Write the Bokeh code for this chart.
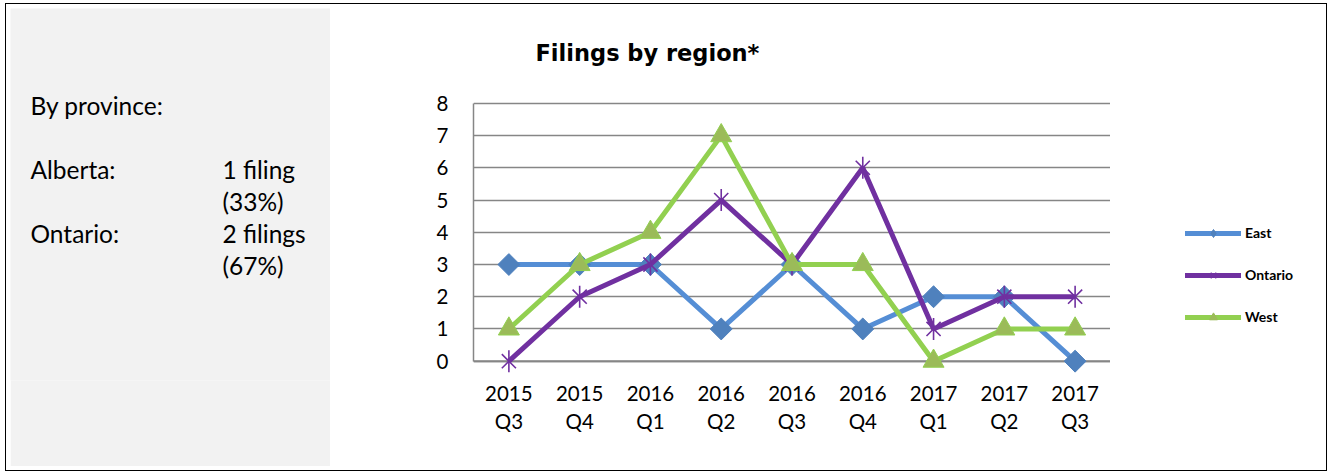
import math
from bokeh.plotting import figure
from bokeh.models import (ColumnDataSource, FactorRange, Range1d, FixedTicker,
                          Legend, LegendItem, Span)
from bokeh.layouts import row
from bokeh.core.properties import value
from bokeh.embed import file_html
from bokeh.resources import INLINE

# ---------------- data ----------------
quarters = ["2015\nQ3", "2015\nQ4", "2016\nQ1", "2016\nQ2", "2016\nQ3",
            "2016\nQ4", "2017\nQ1", "2017\nQ2", "2017\nQ3"]
east = [3, 3, 3, 1, 3, 1, 2, 2, 0]
ontario = [0, 2, 3, 5, 3, 6, 1, 2, 2]
west = [1, 3, 4, 7, 3, 3, 0, 1, 1]
series_names = ["East", "Ontario", "West"]
y_ticks = [0, 1, 2, 3, 4, 5, 6, 7, 8]
title_text = "Filings by region*"

side_heading = "By province:"
side_rows = [("Alberta:", "1 filing", "(33%)"),
             ("Ontario:", "2 filings", "(67%)")]

FONT = "Lato"
GRAY_BG = "#F2F2F2"
AXIS_GRAY = "#868686"
C_EAST, C_EAST_M = "#558ED5", "#4F81BD"
C_ONT = "#7030A0"
C_WEST, C_WEST_M = "#92D050", "#9BBB59"

# page geometry (pixels)
ROW_LEFT, ROW_TOP = 10, 8
ROW_W, ROW_H = 1312, 458
LEFT_W = 320
FRAME_L, FRAME_R = 473, 1110          # plot area left/right on page
Y8_PX, Y0_PX = 103, 361               # page y of value 8 and value 0
PPU = (Y0_PX - Y8_PX) / 8.0           # pixels per unit
Y_BOTTOM = -0.6                       # room below 0 so markers at 0 are whole
FRAME_B = Y0_PX - Y_BOTTOM * PPU
BOTTOM_BORDER = round(ROW_TOP + ROW_H - FRAME_B)
LEG_W = ROW_LEFT + ROW_W - FRAME_R


def px_to_cat(px):
    return (px - FRAME_L) / (FRAME_R - FRAME_L) * len(quarters)


# ---------------- left panel ----------------
left = figure(width=LEFT_W, height=ROW_H,
              x_range=Range1d(ROW_LEFT, ROW_LEFT + LEFT_W), y_range=Range1d(FRAME_B, ROW_TOP),
              output_backend="svg", toolbar_location=None,
              min_border_left=0, min_border_right=0, min_border_top=0,
              min_border_bottom=BOTTOM_BORDER)
left.axis.visible = False
left.grid.visible = False
left.outline_line_color = None
left.background_fill_color = GRAY_BG
left.border_fill_color = GRAY_BG

tx, ty, tt = [30], [105], [side_heading]
yy = 169
for name, cnt, pct in side_rows:
    tx += [30, 222, 222]
    ty += [yy, yy, yy + 32]
    tt += [name, cnt, pct]
    yy += 64
left.text(x=tx, y=ty, text=tt, text_font=value(FONT), text_font_size="24.5px",
          text_baseline="middle", text_align="left", text_color="#000000")

# ---------------- chart ----------------
src = ColumnDataSource(dict(x=quarters, east=east, ontario=ontario, west=west))

y_top = (Y0_PX - ROW_TOP) / PPU
p = figure(width=FRAME_R - (ROW_LEFT + LEFT_W), height=ROW_H,
           x_range=FactorRange(*quarters, range_padding=0),
           y_range=Range1d(Y_BOTTOM, y_top), output_backend="svg", toolbar_location=None,
           min_border_left=FRAME_L - (ROW_LEFT + LEFT_W),
           min_border_right=0, min_border_top=0, min_border_bottom=BOTTOM_BORDER)
p.outline_line_color = None
p.background_fill_color = "white"
p.border_fill_color = "white"
p.extra_y_ranges = {"px": Range1d(FRAME_B, ROW_TOP)}

# title
p.text(x=[px_to_cat(535)], y=[53], text=[title_text], y_range_name="px",
       text_font=value("DejaVu Sans"), text_font_size="22.5px", text_font_style="bold",
       text_baseline="middle", text_align="left", text_color="#000000")

p.yaxis.ticker = FixedTicker(ticks=y_ticks)
p.yaxis.bounds = (0, 8)
for ax in (p.xaxis[0], p.yaxis[0]):
    ax.major_tick_line_color = None
    ax.minor_tick_line_color = None
    ax.major_tick_out = 0
    ax.major_tick_in = 0
    ax.major_label_text_font = FONT
    ax.major_label_text_font_size = "20.5px"
    ax.major_label_text_color = "#000000"
p.yaxis.axis_line_color = AXIS_GRAY
p.yaxis.axis_line_width = 1.5
p.xaxis.axis_line_color = None
p.yaxis.major_label_standoff = 25
p.xaxis.major_label_standoff = 0
p.xaxis.major_label_text_line_height = 1.18
p.xaxis.major_label_orientation = "horizontal"

p.xgrid.grid_line_color = None
p.ygrid.grid_line_color = AXIS_GRAY
p.ygrid.grid_line_width = 1.3

# category axis line at value 0
p.add_layout(Span(location=0, dimension="width", line_color=AXIS_GRAY, line_width=2,
                  level="underlay"))

# East
p.line("x", "east", source=src, line_color=C_EAST, line_width=5)
p.scatter("x", "east", source=src, marker="square", angle=math.pi / 4, size=15.5,
          fill_color=C_EAST_M, line_color=C_EAST_M)
# Ontario
p.line("x", "ontario", source=src, line_color=C_ONT, line_width=5)
p.scatter("x", "ontario", source=src, marker="x", size=20, line_color=C_ONT, line_width=1.6)
p.scatter("x", "ontario", source=src, marker="dash", angle=math.pi / 2, size=22,
          line_color=C_ONT, line_width=1.6)
# West
p.line("x", "west", source=src, line_color=C_WEST, line_width=5)
p.scatter("x", "west", source=src, marker="triangle", size=21,
          fill_color=C_WEST_M, line_color=C_WEST, line_width=1)

# ---------------- legend panel ----------------
lg = figure(width=LEG_W, height=ROW_H, x_range=FactorRange(*quarters, range_padding=0),
            y_range=Range1d(100, 101), output_backend="svg", toolbar_location=None,
            min_border_left=0, min_border_right=0, min_border_top=0,
            min_border_bottom=BOTTOM_BORDER)
lg.axis.visible = False
lg.grid.visible = False
lg.outline_line_color = None
lg.background_fill_color = "white"
lg.border_fill_color = "white"

r_e = [lg.line("x", "east", source=src, line_color=C_EAST, line_width=5, line_cap="round"),
       lg.scatter("x", "east", source=src, marker="diamond", size=20,
                  fill_color=C_EAST_M, line_color=C_EAST_M)]
r_o = [lg.line("x", "ontario", source=src, line_color=C_ONT, line_width=5, line_cap="round"),
       lg.scatter("x", "ontario", source=src, marker="x", size=20, line_color=C_ONT,
                  line_width=1.5),
       lg.scatter("x", "ontario", source=src, marker="dash", angle=math.pi / 2, size=20,
                  line_color=C_ONT, line_width=1.5)]
r_w = [lg.line("x", "west", source=src, line_color=C_WEST, line_width=5, line_cap="round"),
       lg.scatter("x", "west", source=src, marker="triangle", size=20,
                  fill_color=C_WEST_M, line_color=C_WEST_M)]

legend = Legend(items=[LegendItem(label=series_names[0], renderers=r_e),
                       LegendItem(label=series_names[1], renderers=r_o),
                       LegendItem(label=series_names[2], renderers=r_w)],
                location=(1185 - FRAME_R, FRAME_B - 327), orientation="vertical",
                padding=0, margin=0, spacing=22, glyph_width=56, glyph_height=20,
                label_height=20, label_standoff=4, border_line_color=None,
                background_fill_alpha=0, label_text_font=FONT,
                label_text_font_size="14px", label_text_font_style="bold",
                label_text_color="#000000")
lg.add_layout(legend)

layout = row(left, p, lg, margin=(ROW_TOP, 0, 0, ROW_LEFT),
             styles={"outline": "1px solid #000000", "outline-offset": "4px"})

open("out.html", "w").write(file_html(layout, INLINE))
